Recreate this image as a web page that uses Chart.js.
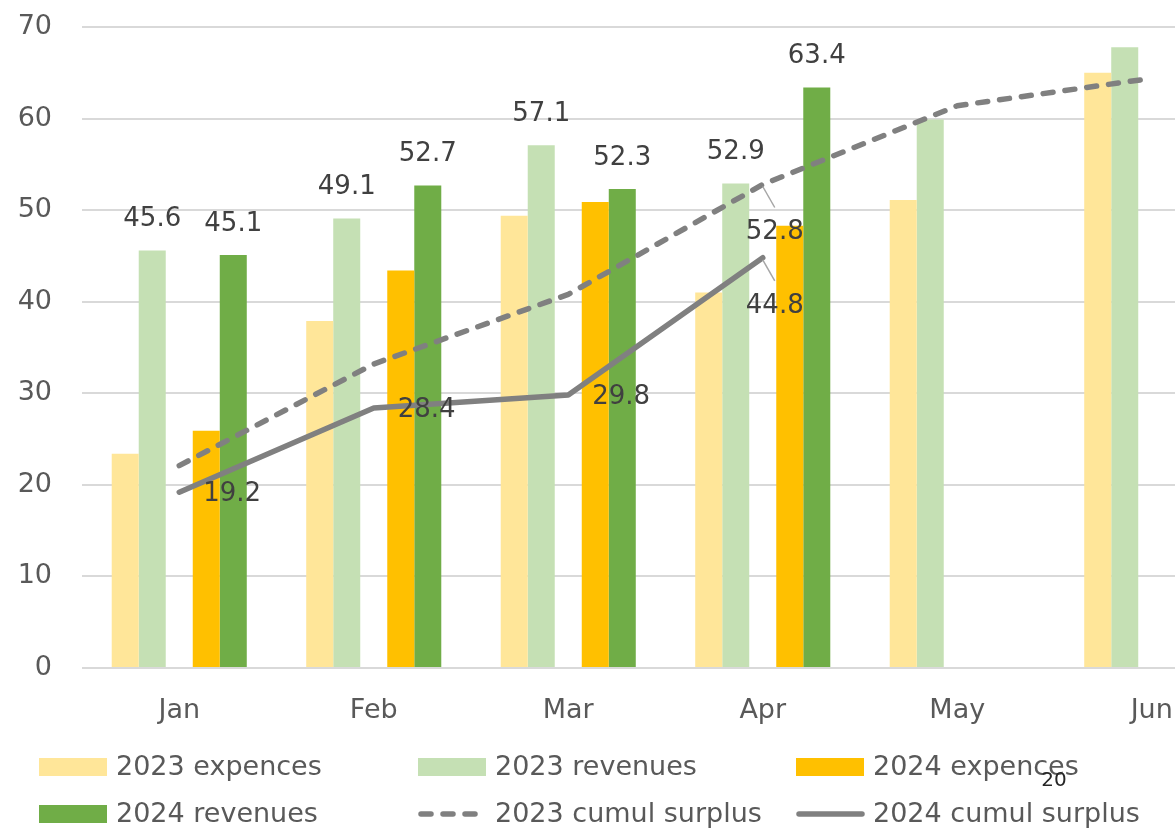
<!DOCTYPE html>
<html>
<head>
<meta charset="utf-8">
<script src="https://cdn.jsdelivr.net/npm/chart.js@4.4.1/dist/chart.umd.min.js"></script>
<style>
  html, body { margin: 0; padding: 0; background: #fff; overflow: hidden; }
  #wrap { width: 1249px; height: 828px; }
</style>
</head>
<body>
<div id="wrap"><canvas id="myChart" width="1249" height="828"></canvas></div>
<script>
const months = ['Jan', 'Feb', 'Mar', 'Apr', 'May', 'Jun'];
const exp2023 = [23.4, 37.9, 49.4, 41.0, 51.1, 65.0];
const rev2023 = [45.6, 49.1, 57.1, 52.9, 59.9, 67.8];
const exp2024 = [25.9, 43.4, 50.9, 48.3, null, null];
const rev2024 = [45.1, 52.7, 52.3, 63.4, null, null];
const cum2023 = [22.1, 33.2, 40.8, 52.8, 61.4, 64.4];
const cum2024 = [19.2, 28.4, 29.8, 44.8, null, null];
const yMin = 0, yMax = 70, yStep = 10;
const pageNumber = '20';

Chart.defaults.font.family = "'DejaVu Sans', sans-serif";

// value labels drawn by hand (no datalabels plugin offline)
const valueLabels = {
    id: 'valueLabels',
    afterDatasetsDraw(chart) {
        const ctx = chart.ctx;
        ctx.save();
        ctx.font = '26px "DejaVu Sans"';
        ctx.fillStyle = '#404040';
        ctx.textBaseline = 'middle';
        chart.data.datasets.forEach((ds, i) => {
            if (!ds.labelAt) return;
            const meta = chart.getDatasetMeta(i);
            ds.labelAt.forEach((j, k) => {
                const el = meta.data[j];
                const txt = ds.data[j].toFixed(1);
                const pos = ds.labelPos[k];
                if (pos === 'top') {
                    ctx.textAlign = 'center';
                    ctx.fillText(txt, el.x, el.y - 31);
                } else if (pos === 'right') {
                    ctx.textAlign = 'left';
                    ctx.fillText(txt, el.x + 24, el.y + 2);
                } else if (pos === 'leader') {
                    ctx.strokeStyle = '#A6A6A6';
                    ctx.lineWidth = 1.5;
                    ctx.beginPath();
                    ctx.moveTo(el.x, el.y + 2);
                    ctx.lineTo(el.x + 12, el.y + 23);
                    ctx.stroke();
                    ctx.textAlign = 'center';
                    ctx.fillText(txt, el.x + 12, el.y + 48);
                }
            });
        });
        ctx.restore();
    }
};

// grid-style legend under the chart
const gridLegend = {
    id: 'gridLegend',
    afterDraw(chart) {
        const ctx = chart.ctx;
        const cols = [39, 418, 796];
        const rows = [767, 814];
        ctx.save();
        ctx.font = '27px "DejaVu Sans"';
        ctx.textBaseline = 'middle';
        ctx.textAlign = 'left';
        let n = 0;
        chart.data.datasets.forEach(ds => {
            if (!ds.label) return;
            const x = cols[n % 3];
            const y = rows[Math.floor(n / 3)];
            if (ds.type === 'line') {
                ctx.strokeStyle = ds.borderColor;
                ctx.lineWidth = 5.5;
                ctx.lineCap = 'round';
                ctx.setLineDash(ds.borderDash || []);
                ctx.beginPath();
                ctx.moveTo(x + 3, y);
                ctx.lineTo(x + 66, y);
                ctx.stroke();
                ctx.setLineDash([]);
            } else {
                ctx.fillStyle = ds.backgroundColor;
                ctx.fillRect(x, y - 9, 68, 18);
            }
            ctx.fillStyle = '#595959';
            ctx.fillText(ds.label, x + 77, y + 1);
            n++;
        });
        ctx.font = '20px "DejaVu Sans"';
        ctx.fillStyle = '#262626';
        ctx.textAlign = 'center';
        ctx.fillText(pageNumber, 1054, 781);
        ctx.restore();
    }
};

const ctx = document.getElementById('myChart');
new Chart(ctx, {
    type: 'bar',
    data: {
        labels: months,
        datasets: [
            {
                label: '2023 expences',
                data: exp2023,
                backgroundColor: '#FFE699',
                order: 1
            },
            {
                label: '2023 revenues',
                data: rev2023,
                backgroundColor: '#C5E0B4',
                order: 1,
                labelAt: [0, 1, 2, 3],
                labelPos: ['top', 'top', 'top', 'top']
            },
            {
                // empty slot between the two years
                label: '',
                data: months.map(() => null),
                backgroundColor: 'rgba(0,0,0,0)',
                order: 1
            },
            {
                label: '2024 expences',
                data: exp2024,
                backgroundColor: '#FFC000',
                order: 1
            },
            {
                label: '2024 revenues',
                data: rev2024,
                backgroundColor: '#70AD47',
                order: 1,
                labelAt: [0, 1, 2, 3],
                labelPos: ['top', 'top', 'top', 'top']
            },
            {
                type: 'line',
                label: '2023 cumul surplus',
                data: cum2023,
                borderColor: '#808080',
                borderWidth: 5.5,
                borderDash: [10, 12],
                borderCapStyle: 'round',
                borderJoinStyle: 'round',
                pointRadius: 0,
                tension: 0,
                order: 0,
                labelAt: [3],
                labelPos: ['leader']
            },
            {
                type: 'line',
                label: '2024 cumul surplus',
                data: cum2024,
                borderColor: '#808080',
                borderWidth: 5.5,
                borderCapStyle: 'round',
                borderJoinStyle: 'round',
                pointRadius: 0,
                tension: 0,
                order: 0,
                labelAt: [0, 1, 2, 3],
                labelPos: ['right', 'right', 'right', 'leader']
            }
        ]
    },
    options: {
        responsive: false,
        animation: false,
        layout: {
            padding: { top: 27, left: 0, right: 0, bottom: 0 }
        },
        datasets: {
            bar: {
                categoryPercentage: 0.6944,
                barPercentage: 1
            }
        },
        scales: {
            x: {
                grid: { display: false, drawTicks: false },
                border: { display: false },
                ticks: {
                    color: '#595959',
                    padding: 27,
                    font: { size: 27 }
                },
                afterFit: (scale) => { scale.height = 160; }
            },
            y: {
                min: yMin,
                max: yMax,
                grid: { color: '#D9D9D9', lineWidth: 2, drawTicks: false },
                border: { display: false },
                ticks: {
                    stepSize: yStep,
                    color: '#595959',
                    padding: 30,
                    font: { size: 27 }
                },
                afterFit: (scale) => {
                    scale.width = 82;
                    scale.paddingTop = 0;
                    scale.paddingBottom = 0;
                }
            }
        },
        plugins: {
            legend: { display: false },
            tooltip: { enabled: false }
        }
    },
    plugins: [valueLabels, gridLegend]
});
</script>
</body>
</html>
